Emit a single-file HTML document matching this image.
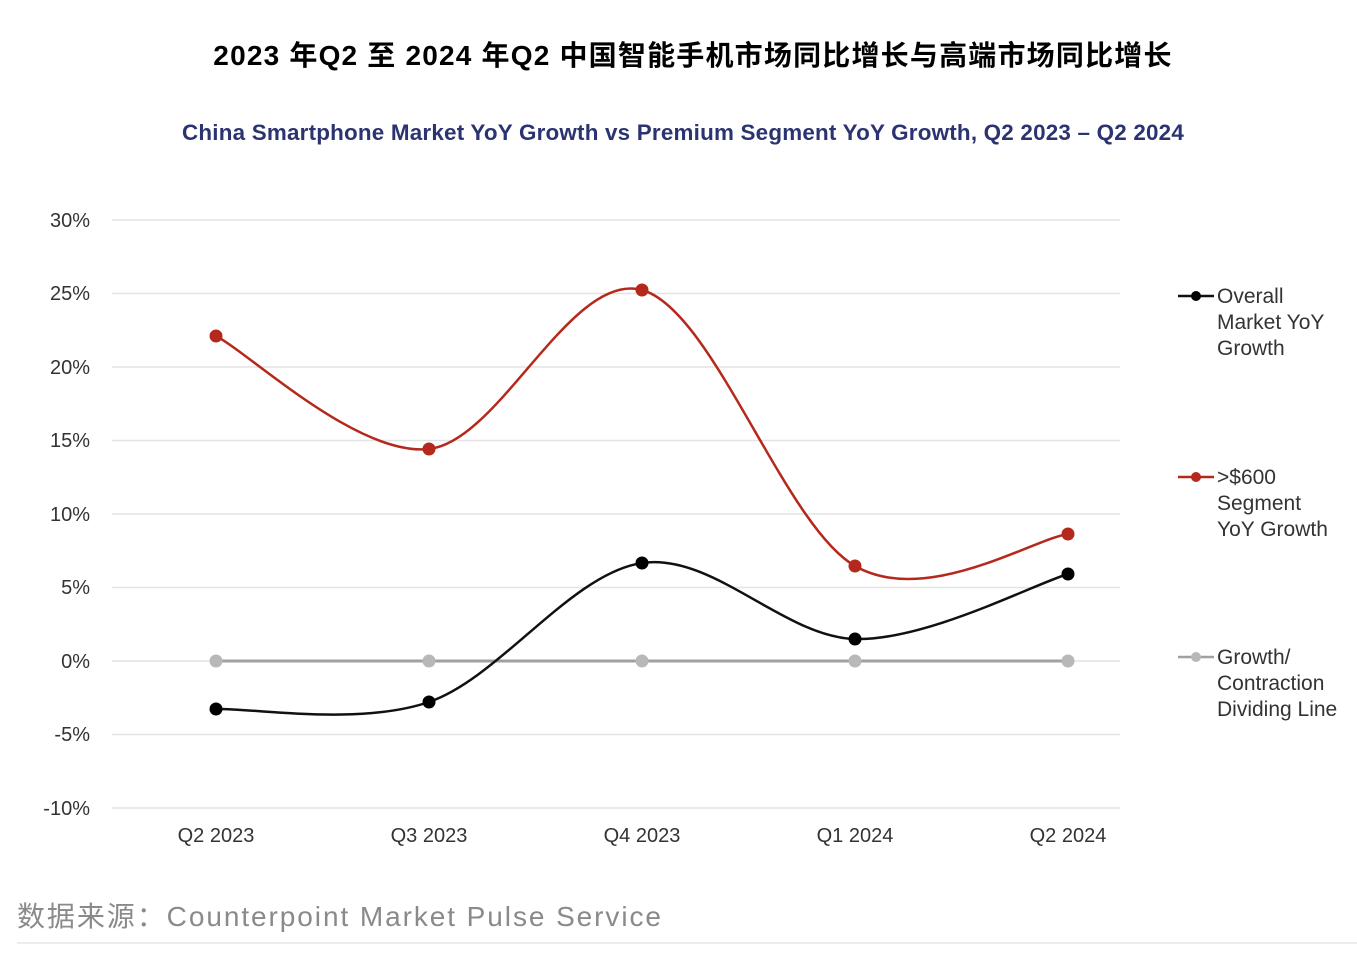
<!DOCTYPE html>
<html><head><meta charset="utf-8"><style>
body{margin:0;background:#fff;width:1357px;height:963px;overflow:hidden;font-family:"Liberation Sans","Noto Sans CJK SC",sans-serif}
</style></head><body>
<svg width="1357" height="963" xmlns="http://www.w3.org/2000/svg" style="position:absolute;left:0;top:0">
<text x="693" y="65" text-anchor="middle" font-size="28" font-weight="bold" fill="#000" letter-spacing="1.2" font-family="Liberation Sans,Noto Sans CJK SC,sans-serif">2023 年Q2 至 2024 年Q2 中国智能手机市场同比增长与高端市场同比增长</text>
<text x="683" y="140" text-anchor="middle" font-size="22" font-weight="bold" fill="#2b3470" letter-spacing="0.2" textLength="1002" lengthAdjust="spacingAndGlyphs" font-family="Liberation Sans,sans-serif">China Smartphone Market YoY Growth vs Premium Segment YoY Growth, Q2 2023 – Q2 2024</text>
<g stroke="#e4e4e4" stroke-width="1.5">
<line x1="112" x2="1120" y1="220" y2="220"/><line x1="112" x2="1120" y1="293.5" y2="293.5"/><line x1="112" x2="1120" y1="367" y2="367"/><line x1="112" x2="1120" y1="440.5" y2="440.5"/><line x1="112" x2="1120" y1="514" y2="514"/><line x1="112" x2="1120" y1="587.5" y2="587.5"/><line x1="112" x2="1120" y1="661" y2="661"/><line x1="112" x2="1120" y1="734.5" y2="734.5"/><line x1="112" x2="1120" y1="808" y2="808"/>
</g>
<g font-size="20" fill="#333" text-anchor="end" font-family="Liberation Sans,sans-serif">
<text x="90" y="227">30%</text><text x="90" y="300">25%</text><text x="90" y="374">20%</text><text x="90" y="447">15%</text><text x="90" y="521">10%</text><text x="90" y="594">5%</text><text x="90" y="668">0%</text><text x="90" y="741">-5%</text><text x="90" y="815">-10%</text>
</g>
<g font-size="20" fill="#333" text-anchor="middle" font-family="Liberation Sans,sans-serif">
<text x="216" y="842">Q2 2023</text><text x="429" y="842">Q3 2023</text><text x="642" y="842">Q4 2023</text><text x="855" y="842">Q1 2024</text><text x="1068" y="842">Q2 2024</text>
</g>
<line x1="216" x2="1068" y1="661" y2="661" stroke="#a0a0a0" stroke-width="3"/>
<g fill="#b8b8b8"><circle cx="216" cy="661" r="6.5"/><circle cx="429" cy="661" r="6.5"/><circle cx="642" cy="661" r="6.5"/><circle cx="855" cy="661" r="6.5"/><circle cx="1068" cy="661" r="6.5"/></g>
<path d="M216,336 C251.5,354.8 358,456.7 429,449 C500,441.3 571,270.5 642,290 C713,309.5 784,525.3 855,566 C926,606.7 1032.5,539.3 1068,534" fill="none" stroke="#b5291c" stroke-width="2.5"/>
<g fill="#b5291c"><circle cx="216" cy="336" r="6.5"/><circle cx="429" cy="449" r="6.5"/><circle cx="642" cy="290" r="6.5"/><circle cx="855" cy="566" r="6.5"/><circle cx="1068" cy="534" r="6.5"/></g>
<path d="M216,709 C251.5,707.8 358,726.3 429,702 C500,677.7 571,573.5 642,563 C713,552.5 784,637.2 855,639 C926,640.8 1032.5,584.8 1068,574" fill="none" stroke="#111" stroke-width="2.5"/>
<g fill="#000"><circle cx="216" cy="709" r="6.5"/><circle cx="429" cy="702" r="6.5"/><circle cx="642" cy="563" r="6.5"/><circle cx="855" cy="639" r="6.5"/><circle cx="1068" cy="574" r="6.5"/></g>
<g font-size="21" fill="#333" font-family="Liberation Sans,sans-serif">
<line x1="1178" x2="1214" y1="296" y2="296" stroke="#111" stroke-width="2.5"/><circle cx="1196" cy="296" r="5" fill="#000"/>
<text x="1217" y="303">Overall</text><text x="1217" y="329">Market YoY</text><text x="1217" y="355">Growth</text>
<line x1="1178" x2="1214" y1="477" y2="477" stroke="#b5291c" stroke-width="2.5"/><circle cx="1196" cy="477" r="5" fill="#b5291c"/>
<text x="1217" y="484">&gt;$600</text><text x="1217" y="510">Segment</text><text x="1217" y="536">YoY Growth</text>
<line x1="1178" x2="1214" y1="657" y2="657" stroke="#a0a0a0" stroke-width="2.5"/><circle cx="1196" cy="657" r="5" fill="#b8b8b8"/>
<text x="1217" y="664">Growth/</text><text x="1217" y="690">Contraction</text><text x="1217" y="716">Dividing Line</text>
</g>
<text x="17" y="926" font-size="28" fill="#8a8a8a" textLength="644" lengthAdjust="spacing" font-family="Liberation Sans,Noto Sans CJK SC,sans-serif">数据来源：Counterpoint Market Pulse Service</text>
<line x1="17" x2="1357" y1="943" y2="943" stroke="#e6e6e6" stroke-width="1.5"/>
</svg>
</body></html>
